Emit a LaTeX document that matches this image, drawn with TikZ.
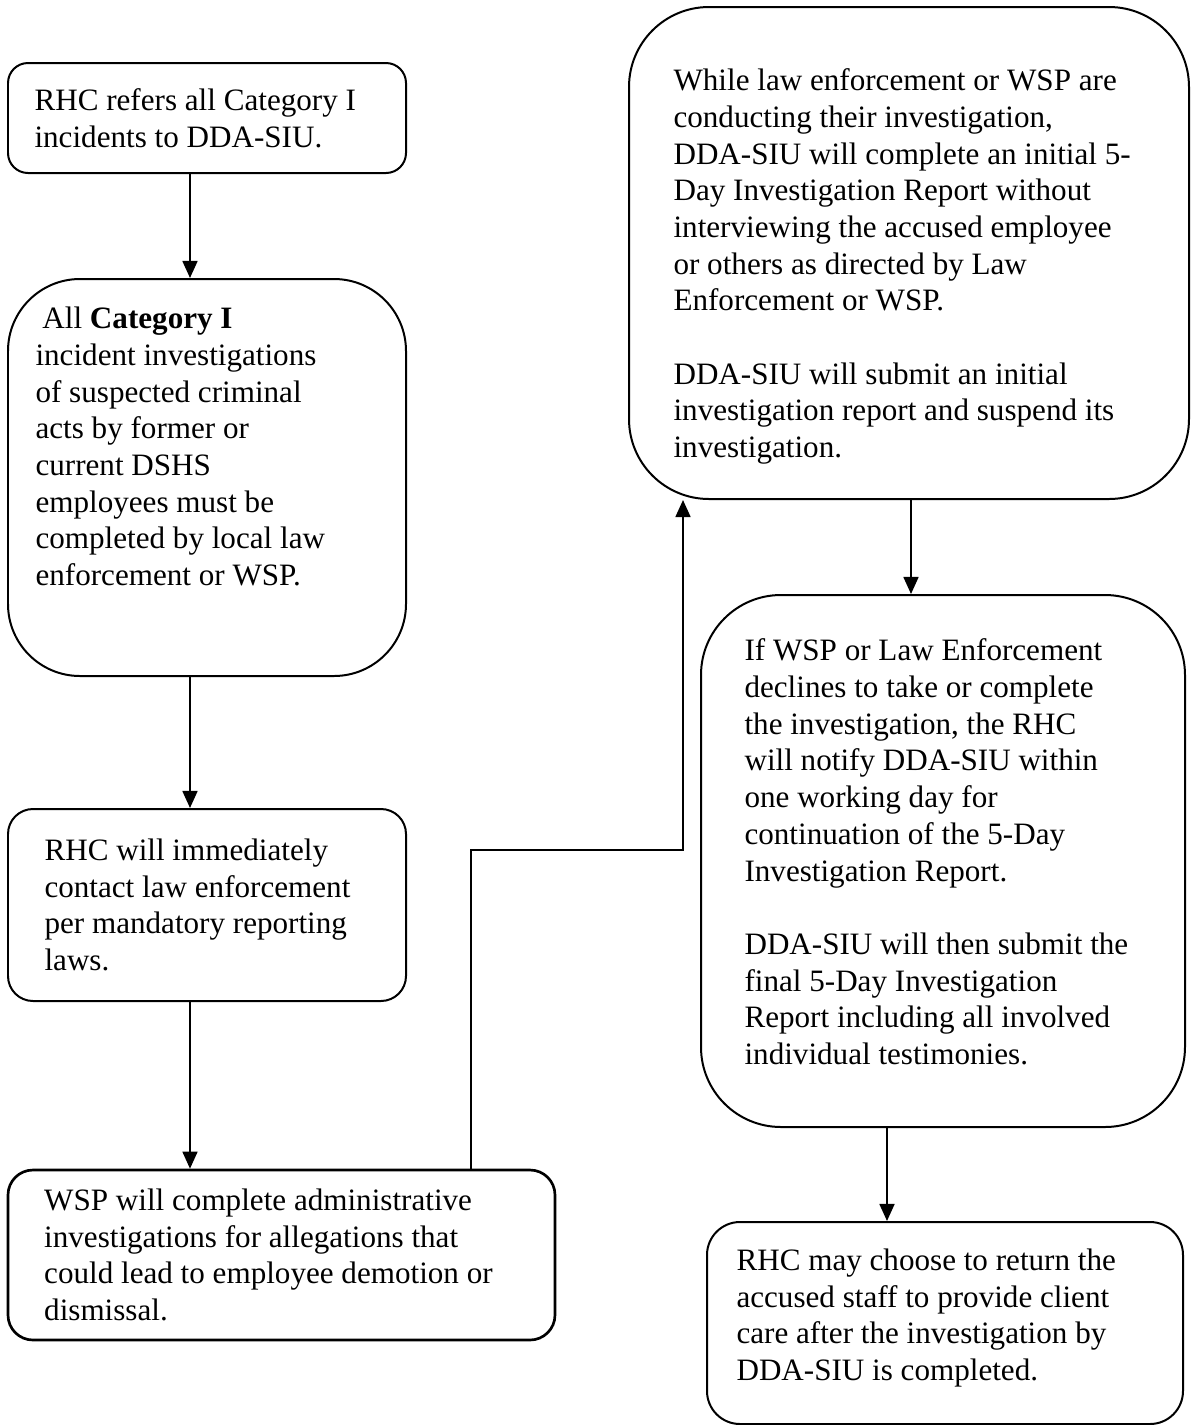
\documentclass[tikz,border=0pt]{standalone}
\usepackage{fontspec}
\setmainfont{Liberation Serif}
\usetikzlibrary{positioning}
\usetikzlibrary{arrows.meta}

\newcommand{\pu}{0.376pt}

\tikzset{
	flowbox/.style={draw, line width=0.75pt, inner sep=0pt},
	boxtext/.style={align=left, inner sep=0pt, anchor=west, font=\fontsize{11.7}{13.8}\selectfont},
	flow/.style={line width=0.75pt, -{Triangle[length=6.4pt,width=5.6pt]}},
}

\begin{document}
\begin{tikzpicture}[x=0.376pt, y=-0.376pt]
			\useasboundingbox (0,0) rectangle (1191,1425);

			% left column
			\node[flowbox, rounded corners=20*\pu, minimum width=398*\pu, minimum height=110*\pu] (refer) at (207,118) {};
			\node[flowbox, rounded corners=72*\pu, minimum width=398*\pu, minimum height=397*\pu] (allcat) at (207,477.5) {};
			\node[flowbox, rounded corners=25*\pu, minimum width=398*\pu, minimum height=192*\pu] (contact) at (207,905) {};
			\node[flowbox, line width=1pt, rounded corners=25*\pu, minimum width=547*\pu, minimum height=170*\pu] (wsp) at (281.5,1255) {};

			% right column
			\node[flowbox, rounded corners=80*\pu, minimum width=560*\pu, minimum height=492*\pu] (conduct) at (909,253) {};
			\node[flowbox, rounded corners=80*\pu, minimum width=484*\pu, minimum height=532*\pu] (declines) at (943,861) {};
			\node[flowbox, rounded corners=33*\pu, minimum width=476*\pu, minimum height=202*\pu] (returns) at (945,1323) {};

			% texts
			\node[boxtext] (referT) at ([xshift=27*\pu]refer.west)
				{RHC refers all Category I\\incidents to DDA-SIU.};
			\node[boxtext] (allcatT) at ([xshift=28*\pu, yshift=31*\pu]allcat.west)
				{\hspace{2.6pt}All \textbf{Category I}\\incident investigations\\of suspected criminal\\acts by former or\\current DSHS\\employees must be\\completed by local law\\enforcement or WSP.};
			\node[boxtext] (contactT) at ([xshift=37*\pu]contact.west)
				{RHC will immediately\\contact law enforcement\\per mandatory reporting\\laws.};
			\node[boxtext] (wspT) at ([xshift=37*\pu]wsp.west)
				{WSP will complete administrative\\investigations for allegations that\\could lead to employee demotion or\\dismissal.};
			\node[boxtext] (conductT) at ([xshift=45*\pu, yshift=-13.5*\pu]conduct.west)
				{While law enforcement or WSP are\\conducting their investigation,\\DDA-SIU will complete an initial 5-\\Day Investigation Report without\\interviewing the accused employee\\or others as directed by Law\\Enforcement or WSP.\\[13.8pt]DDA-SIU will submit an initial\\investigation report and suspend its\\investigation.};
			\node[boxtext] (declinesT) at ([xshift=44*\pu, yshift=9*\pu]declines.west)
				{If WSP or Law Enforcement\\declines to take or complete\\the investigation, the RHC\\will notify DDA-SIU within\\one working day for\\continuation of the 5-Day\\Investigation Report.\\[13.8pt]DDA-SIU will then submit the\\final 5-Day Investigation\\Report including all involved\\individual testimonies.};
			\node[boxtext] (returnsT) at ([xshift=30*\pu, yshift=5*\pu]returns.west)
				{RHC may choose to return the\\accused staff to provide client\\care after the investigation by\\DDA-SIU is completed.};

			\coordinate (turn) at (683,850);

			\draw[flow] ([xshift=-17*\pu]refer.south) -- ([xshift=-17*\pu]allcat.north);
			\draw[flow] ([xshift=-17*\pu]allcat.south) -- ([xshift=-17*\pu]contact.north);
			\draw[flow] ([xshift=-17*\pu]contact.south) -- ([xshift=-17*\pu]contact.south |- wsp.north);
			\draw[flow] ([xshift=189.5*\pu]wsp.north) |- (turn) -- (turn |- conduct.south);
			\draw[flow] ([xshift=2*\pu]conduct.south) -- ([xshift=2*\pu]conduct.south |- declines.north);
			\draw[flow] ([xshift=-56*\pu]declines.south) -- ([xshift=-56*\pu]declines.south |- returns.north);
\end{tikzpicture}
\end{document}
